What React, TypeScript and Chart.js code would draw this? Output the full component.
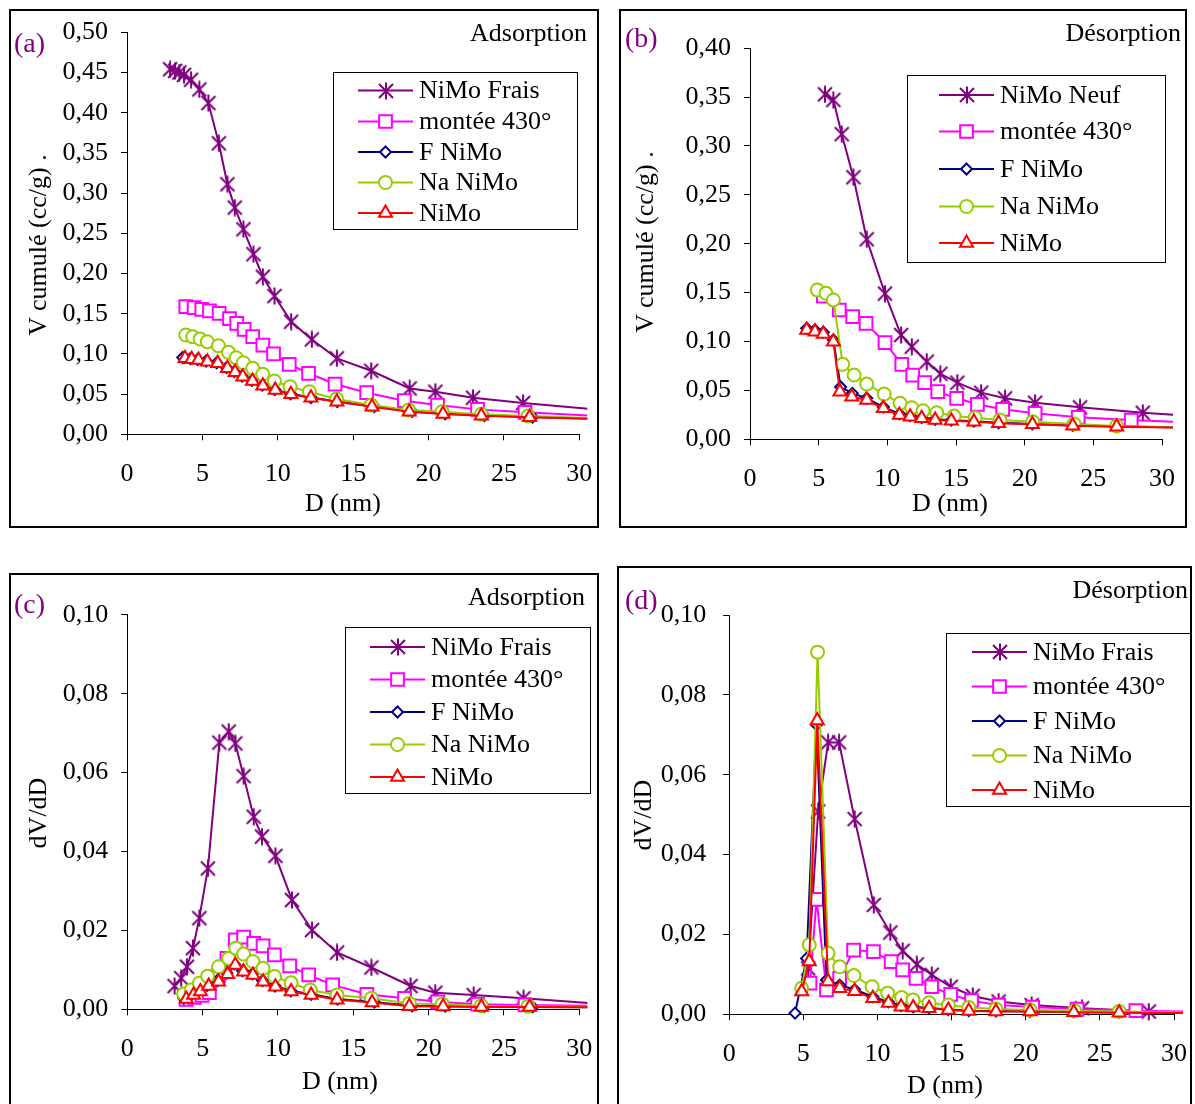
import React, { useEffect, useRef } from 'react';
import { Chart, registerables } from 'chart.js';
Chart.register(...registerables);

type P = [number, number][];

// ---------- Colours / fonts ----------
const PURPLE = '#800080';
const MAGENTA = '#FF00FF';
const NAVY = '#000080';
const GREEN = '#99CC00';
const RED = '#FF0000';
const FONT = "'Liberation Serif', 'Times New Roman', serif";

// ---------- Legend labels ----------
const LABELS_FRAIS = ['NiMo Frais', 'montée 430°', 'F NiMo', 'Na NiMo', 'NiMo'];
const LABELS_NEUF = ['NiMo Neuf', 'montée 430°', 'F NiMo', 'Na NiMo', 'NiMo'];

// ---------- Axis ranges ----------
const X_MAX = 30;
const X_STEP = 5;
const Y_MAX_A = 0.5;
const Y_MAX_B = 0.4;
const Y_MAX_CD = 0.1;
const Y_STEP_AB = 0.05;
const Y_STEP_CD = 0.02;

// ---------- (a) Adsorption, cumulative volume ----------
const A_FRAIS: P = [[2.86, 0.454], [3.19, 0.452], [3.47, 0.45], [3.78, 0.447], [4.25, 0.441], [4.8, 0.429], [5.4, 0.412], [6.09, 0.362], [6.66, 0.311], [7.15, 0.282], [7.72, 0.255], [8.39, 0.224], [9.01, 0.196], [9.78, 0.172], [10.89, 0.14], [12.26, 0.118], [13.92, 0.0945], [16.2, 0.079], [18.75, 0.057], [20.45, 0.053], [22.95, 0.0455], [26.27, 0.039], [32, 0.0295]];
const A_MONTEE: P = [[3.9, 0.1587], [4.45, 0.1575], [4.96, 0.1555], [5.47, 0.1534], [6.11, 0.1505], [6.8, 0.1438], [7.28, 0.138], [7.77, 0.1306], [8.34, 0.1214], [9.01, 0.111], [9.72, 0.0999], [10.76, 0.087], [12.04, 0.0759], [13.8, 0.0625], [15.9, 0.0518], [18.4, 0.0418], [20.6, 0.0364], [23.25, 0.031], [26.4, 0.0274], [32, 0.022]];
const A_F: P = [[3.7, 0.0955], [4.2, 0.0942], [4.68, 0.093], [5.25, 0.0912], [5.95, 0.089], [6.6, 0.083], [7.12, 0.078], [7.63, 0.0725], [8.28, 0.067], [8.98, 0.0612], [9.8, 0.0557], [10.85, 0.0503], [12.2, 0.0458], [13.95, 0.0408], [16.4, 0.0345], [18.9, 0.0285], [21.1, 0.0255], [23.7, 0.0233], [26.9, 0.0214], [32, 0.019]];
const A_NA: P = [[3.9, 0.1235], [4.36, 0.1214], [4.85, 0.1185], [5.33, 0.1152], [6.06, 0.1102], [6.73, 0.102], [7.24, 0.0953], [7.72, 0.089], [8.34, 0.082], [9.01, 0.0746], [9.78, 0.0663], [10.82, 0.0592], [12.1, 0.053], [13.9, 0.044], [16.2, 0.0364], [18.68, 0.0302], [20.9, 0.0281], [23.5, 0.0249], [26.6, 0.0228], [32, 0.0195]];
const A_NIMO: P = [[3.85, 0.0945], [4.29, 0.0933], [4.74, 0.0924], [5.33, 0.0903], [6.02, 0.0883], [6.66, 0.0821], [7.17, 0.0771], [7.68, 0.0716], [8.32, 0.0663], [9.01, 0.0605], [9.83, 0.0551], [10.87, 0.0498], [12.2, 0.0455], [13.92, 0.0405], [16.25, 0.0343], [18.72, 0.0281], [20.96, 0.0252], [23.5, 0.0231], [26.7, 0.0211], [32, 0.0185]];

// ---------- (b) Désorption, cumulative volume ----------
const B_NEUF: P = [[5.46, 0.3527], [6.07, 0.347], [6.68, 0.312], [7.53, 0.268], [8.5, 0.2045], [9.83, 0.149], [11.0, 0.1066], [11.78, 0.0947], [12.87, 0.0794], [13.86, 0.067], [15.1, 0.0579], [16.83, 0.0477], [18.57, 0.0419], [20.76, 0.0374], [24.03, 0.0327], [28.6, 0.0272], [33, 0.023]];
const B_MONTEE: P = [[5.34, 0.1465], [6.5, 0.1322], [7.48, 0.1254], [8.45, 0.1186], [9.83, 0.0988], [11.05, 0.0767], [11.85, 0.0657], [12.72, 0.0579], [13.67, 0.0487], [15.05, 0.0419], [16.56, 0.0358], [18.4, 0.0307], [20.76, 0.0266], [23.9, 0.0225], [27.76, 0.0197], [33, 0.0165]];
const B_F: P = [[4.13, 0.1135], [4.73, 0.1118], [5.34, 0.1095], [6.07, 0.1015], [6.6, 0.0535], [7.45, 0.047], [8.5, 0.042], [9.71, 0.033], [10.88, 0.026], [11.66, 0.0242], [12.5, 0.0222], [13.48, 0.0205], [14.66, 0.0196], [16.3, 0.0185], [18.1, 0.0168], [20.56, 0.0157], [23.5, 0.0142], [26.7, 0.0132], [33, 0.012]];
const B_NA: P = [[4.9, 0.1527], [5.53, 0.1493], [6.07, 0.1425], [6.75, 0.0767], [7.58, 0.0657], [8.5, 0.0565], [9.77, 0.0463], [10.93, 0.0368], [11.78, 0.0323], [12.6, 0.0292], [13.6, 0.0272], [14.86, 0.0238], [16.39, 0.0221], [18.2, 0.0197], [20.59, 0.018], [23.6, 0.0156], [26.7, 0.0136], [33, 0.0115]];
const B_NIMO: P = [[4.13, 0.1118], [4.73, 0.11], [5.34, 0.1077], [6.07, 0.0998], [6.55, 0.0487], [7.41, 0.0436], [8.5, 0.0402], [9.71, 0.0317], [10.88, 0.0248], [11.66, 0.0231], [12.5, 0.0215], [13.48, 0.0197], [14.66, 0.019], [16.3, 0.018], [18.1, 0.0164], [20.56, 0.0153], [23.5, 0.0139], [26.7, 0.0129], [33, 0.0118]];

// ---------- (c) Adsorption, dV/dD ----------
const C_FRAIS: P = [[3.14, 0.0059], [3.58, 0.0079], [3.96, 0.0108], [4.36, 0.0155], [4.78, 0.0231], [5.35, 0.0357], [6.11, 0.0676], [6.73, 0.0704], [7.17, 0.0674], [7.72, 0.0591], [8.39, 0.0488], [8.94, 0.0438], [9.83, 0.0389], [10.93, 0.0277], [12.26, 0.0201], [13.92, 0.0144], [16.2, 0.0106], [18.8, 0.0059], [20.44, 0.0042], [22.99, 0.0036], [26.3, 0.0028], [32, 0.0012]];
const C_MONTEE: P = [[3.9, 0.0025], [4.45, 0.003], [4.96, 0.0035], [5.45, 0.0042], [6.05, 0.0085], [6.61, 0.0129], [7.17, 0.0176], [7.72, 0.0183], [8.39, 0.0167], [9.01, 0.0161], [9.76, 0.0138], [10.78, 0.011], [12.04, 0.0087], [13.63, 0.0062], [15.9, 0.0038], [18.4, 0.0028], [20.6, 0.0019], [23.25, 0.0013], [26.4, 0.0011], [32, 0.0008]];
const C_F: P = [[3.75, 0.0028], [4.25, 0.0038], [4.75, 0.0048], [5.3, 0.0061], [5.98, 0.0073], [6.6, 0.0092], [7.1, 0.0115], [7.65, 0.0098], [8.3, 0.009], [8.98, 0.0073], [9.8, 0.0059], [10.85, 0.0047], [12.2, 0.0038], [13.95, 0.0026], [16.4, 0.0018], [18.9, 0.0009], [21.1, 0.0008], [23.7, 0.0007], [26.9, 0.0006], [32, 0.0005]];
const C_NA: P = [[3.74, 0.0039], [4.23, 0.0049], [4.78, 0.0066], [5.33, 0.0084], [6.06, 0.0108], [6.73, 0.0129], [7.2, 0.0155], [7.72, 0.014], [8.34, 0.0121], [9.01, 0.0104], [9.78, 0.0083], [10.87, 0.0067], [12.15, 0.0049], [13.92, 0.0036], [16.2, 0.0028], [18.72, 0.0015], [20.9, 0.0013], [23.5, 0.0009], [26.6, 0.0008], [32, 0.0006]];
const C_NIMO: P = [[3.92, 0.0026], [4.4, 0.0036], [4.85, 0.0045], [5.4, 0.0059], [6.06, 0.007], [6.66, 0.0089], [7.17, 0.0112], [7.72, 0.0095], [8.34, 0.0087], [9.01, 0.007], [9.83, 0.0057], [10.87, 0.0045], [12.2, 0.0036], [13.92, 0.0024], [16.25, 0.0017], [18.72, 0.0008], [20.96, 0.0007], [23.5, 0.0006], [26.7, 0.0006], [32, 0.0005]];

// ---------- (d) Désorption, dV/dD ----------
const D_FRAIS: P = [[5.33, 0.0115], [6.0, 0.0508], [6.67, 0.0681], [7.41, 0.0681], [8.46, 0.0489], [9.75, 0.0274], [10.87, 0.0205], [11.7, 0.0159], [12.65, 0.0125], [13.66, 0.0099], [14.94, 0.0069], [16.43, 0.0046], [18.17, 0.0032], [20.4, 0.0023], [23.8, 0.0015], [28.3, 0.0007], [33, 0.0002]];
const D_MONTEE: P = [[5.45, 0.0078], [5.89, 0.0288], [6.56, 0.0061], [7.45, 0.009], [8.39, 0.0161], [9.73, 0.0157], [10.92, 0.0132], [11.7, 0.0111], [12.6, 0.009], [13.66, 0.0069], [14.94, 0.005], [16.34, 0.0034], [18.17, 0.0023], [20.47, 0.0018], [23.46, 0.0013], [27.43, 0.0009], [33, 0.0005]];
const D_F: P = [[4.44, 0.0003], [5.22, 0.014], [5.89, 0.0725], [6.56, 0.0086], [7.45, 0.0073], [8.46, 0.0062], [9.69, 0.0044], [10.74, 0.0031], [11.59, 0.0022], [12.41, 0.0019], [13.48, 0.0016], [14.78, 0.0012], [16.16, 0.0009], [17.99, 0.0008], [20.29, 0.0007], [23.24, 0.0006], [26.3, 0.0005], [33, 0.0003]];
const D_NA: P = [[4.89, 0.0065], [5.4, 0.0174], [5.96, 0.0907], [6.67, 0.0153], [7.45, 0.0119], [8.41, 0.0097], [9.64, 0.0069], [10.69, 0.0053], [11.63, 0.0042], [12.4, 0.0036], [13.48, 0.0029], [14.78, 0.0023], [16.16, 0.0017], [17.99, 0.0013], [20.29, 0.0011], [23.3, 0.0009], [26.3, 0.0007], [33, 0.0004]];
const D_NIMO: P = [[4.89, 0.0057], [5.4, 0.0132], [5.94, 0.0736], [6.67, 0.0082], [7.45, 0.0065], [8.46, 0.0058], [9.69, 0.004], [10.74, 0.0028], [11.59, 0.0019], [12.41, 0.0017], [13.48, 0.0015], [14.78, 0.0011], [16.16, 0.0008], [17.99, 0.0007], [20.29, 0.0007], [23.24, 0.0005], [26.3, 0.0004], [33, 0.0003]];

// ---------- Series styles ----------
type Style = { color: string; marker: string; radius: number };
const STYLES: Style[] = [
  { color: PURPLE, marker: 'star', radius: 8 },
  { color: MAGENTA, marker: 'rect', radius: 9 },
  { color: NAVY, marker: 'rectRot', radius: 5.5 },
  { color: GREEN, marker: 'circle', radius: 6.5 },
  { color: RED, marker: 'triangle', radius: 7.5 },
];

let starCache: HTMLCanvasElement | null = null;
function starImage(): HTMLCanvasElement {
  if (starCache) return starCache;
  const c = document.createElement('canvas');
  c.width = 18;
  c.height = 18;
  const g = c.getContext('2d')!;
  g.strokeStyle = PURPLE;
  g.lineWidth = 2;
  g.beginPath();
  g.moveTo(2, 2);
  g.lineTo(16, 16);
  g.moveTo(16, 2);
  g.lineTo(2, 16);
  g.moveTo(9, 0.5);
  g.lineTo(9, 17.5);
  g.stroke();
  starCache = c;
  return c;
}

function drawMarker(ctx: CanvasRenderingContext2D, st: Style, x: number, y: number) {
  ctx.save();
  if (st.marker === 'star') {
    const img = starImage();
    ctx.drawImage(img, Math.round(x - img.width / 2), Math.round(y - img.height / 2));
    ctx.restore();
    return;
  }
  const r = st.radius;
  ctx.strokeStyle = st.color;
  ctx.fillStyle = '#fff';
  ctx.lineWidth = 2;
  ctx.beginPath();
  if (st.marker === 'rect') {
    const s = Math.SQRT1_2 * r;
    ctx.rect(x - s, y - s, 2 * s, 2 * s);
  } else if (st.marker === 'rectRot') {
    ctx.moveTo(x - r, y);
    ctx.lineTo(x, y - r);
    ctx.lineTo(x + r, y);
    ctx.lineTo(x, y + r);
    ctx.closePath();
  } else if (st.marker === 'circle') {
    ctx.arc(x, y, r, 0, Math.PI * 2);
  } else if (st.marker === 'triangle') {
    ctx.moveTo(x, y - r);
    ctx.lineTo(x + 0.866 * r, y + 0.5 * r);
    ctx.lineTo(x - 0.866 * r, y + 0.5 * r);
    ctx.closePath();
  }
  ctx.fill();
  ctx.stroke();
  ctx.restore();
}

// ---------- Panel layout (page pixel coordinates) ----------
type Box = { l: number; t: number; r: number; b: number };
type PanelCfg = {
  box: Box;
  plot: Box;
  clipR: number;
  yMax: number;
  yStep: number;
  yPad: number;
  series: P[];
  labels: string[];
  legend: { box: Box; rows: number[]; x0: number; x1: number; tx: number };
};

const PANELS: PanelCfg[] = [
  {
    box: { l: 10, t: 10, r: 598, b: 527 },
    plot: { l: 127, t: 32.3, r: 579.3, b: 434.3 },
    clipR: 8, yMax: Y_MAX_A, yStep: Y_STEP_AB, yPad: 13,
    series: [A_FRAIS, A_MONTEE, A_F, A_NA, A_NIMO],
    labels: LABELS_FRAIS,
    legend: { box: { l: 333, t: 72, r: 577, b: 229 }, rows: [90.5, 121.5, 152, 182.5, 213], x0: 358, x1: 413, tx: 419 },
  },
  {
    box: { l: 620, t: 10, r: 1186, b: 527 },
    plot: { l: 750, t: 48.1, r: 1162, b: 439.3 },
    clipR: 11, yMax: Y_MAX_B, yStep: Y_STEP_AB, yPad: 13,
    series: [B_NEUF, B_MONTEE, B_F, B_NA, B_NIMO],
    labels: LABELS_NEUF,
    legend: { box: { l: 907, t: 75, r: 1165, b: 262 }, rows: [95, 131.5, 169, 206.5, 243], x0: 939, x1: 994, tx: 1000 },
  },
  {
    box: { l: 10, t: 574, r: 598, b: 1120 },
    plot: { l: 127.3, t: 614.8, r: 579.3, b: 1009.3 },
    clipR: 8, yMax: Y_MAX_CD, yStep: Y_STEP_CD, yPad: 13,
    series: [C_FRAIS, C_MONTEE, C_F, C_NA, C_NIMO],
    labels: LABELS_FRAIS,
    legend: { box: { l: 345, t: 627, r: 590, b: 793 }, rows: [647, 679.5, 712, 744.5, 777], x0: 370, x1: 425, tx: 431 },
  },
  {
    box: { l: 618, t: 567, r: 1191, b: 1120 },
    plot: { l: 729.2, t: 615, r: 1174, b: 1014.3 },
    clipR: 9, yMax: Y_MAX_CD, yStep: Y_STEP_CD, yPad: 17,
    series: [D_FRAIS, D_MONTEE, D_F, D_NA, D_NIMO],
    labels: LABELS_FRAIS,
    legend: { box: { l: 946, t: 633, r: 1190, b: 806 }, rows: [652, 686.5, 721, 755.5, 790], x0: 972, x1: 1027, tx: 1033 },
  },
];

function zeroPad(s: any) {
  s.paddingLeft = 0;
  s.paddingRight = 0;
  s.paddingTop = 0;
  s.paddingBottom = 0;
}

function Panel({ cfg }: { cfg: PanelCfg }) {
  const ref = useRef<HTMLCanvasElement>(null);
  const w = cfg.box.r - cfg.box.l;
  const h = cfg.box.b - cfg.box.t;
  useEffect(() => {
    const { box, plot, legend } = cfg;
    const star = starImage();
    const datasets = cfg.series.map((pts, i) => {
      const st = STYLES[i];
      return {
        label: cfg.labels[i],
        data: pts.map(([x, y]) => ({ x, y })),
        borderColor: st.color,
        borderWidth: 2,
        pointStyle: st.marker === 'star' ? (star as any) : st.marker,
        pointRadius: (c: any) => (c.raw && c.raw.x > X_MAX ? 0 : st.radius),
        pointHoverRadius: st.radius,
        pointBorderColor: st.color,
        pointBackgroundColor: '#fff',
        pointBorderWidth: 2,
        tension: 0,
        fill: false,
        order: 5 - i,
        clip: { left: 30, top: 30, right: cfg.clipR, bottom: 30 },
      };
    });
    const legendPlugin = {
      id: 'boxLegend',
      afterDraw(chart: any) {
        const ctx: CanvasRenderingContext2D = chart.ctx;
        const ox = box.l;
        const oy = box.t;
        ctx.save();
        const lb = legend.box;
        ctx.fillStyle = '#fff';
        ctx.fillRect(lb.l - ox, lb.t - oy, lb.r - lb.l, lb.b - lb.t);
        ctx.strokeStyle = '#000';
        ctx.lineWidth = 1;
        ctx.strokeRect(Math.round(lb.l - ox) + 0.5, Math.round(lb.t - oy) + 0.5, lb.r - lb.l, lb.b - lb.t);
        legend.rows.forEach((ry, i) => {
          const st = STYLES[i];
          const y = ry - oy;
          ctx.strokeStyle = st.color;
          ctx.lineWidth = 2;
          ctx.beginPath();
          ctx.moveTo(legend.x0 - ox, y);
          ctx.lineTo(legend.x1 - ox, y);
          ctx.stroke();
          drawMarker(ctx, st, (legend.x0 + legend.x1) / 2 - ox, y);
          ctx.fillStyle = '#000';
          ctx.font = `26px ${FONT}`;
          ctx.textAlign = 'left';
          ctx.textBaseline = 'middle';
          ctx.fillText(cfg.labels[i], legend.tx - ox, y + 1);
        });
        ctx.restore();
      },
    };
    const chart = new Chart(ref.current!, {
      type: 'line',
      data: { datasets: datasets as any },
      options: {
        responsive: false,
        animation: false,
        events: [],
        layout: {
          padding: { left: 0, top: plot.t - box.t, right: box.r - plot.r, bottom: 0 },
        },
        plugins: { legend: { display: false }, tooltip: { enabled: false } },
        scales: {
          x: {
            type: 'linear',
            min: 0,
            max: X_MAX,
            ticks: {
              stepSize: X_STEP,
              color: '#000',
              font: { family: FONT, size: 26, lineHeight: 1.2 },
              padding: 18,
              maxRotation: 0,
              autoSkip: false,
            },
            grid: { drawOnChartArea: false, drawTicks: true, tickLength: 6, color: '#000', lineWidth: 1 },
            border: { display: true, color: '#000', width: 1 },
            afterFit: (s: any) => {
              s.height = box.b - plot.b;
              zeroPad(s);
            },
          },
          y: {
            type: 'linear',
            min: 0,
            max: cfg.yMax,
            ticks: {
              stepSize: cfg.yStep,
              color: '#000',
              font: { family: FONT, size: 26, lineHeight: 1.2 },
              padding: cfg.yPad,
              autoSkip: false,
              callback: (v: any) => Number(v).toFixed(2).replace('.', ','),
            },
            grid: { drawOnChartArea: false, drawTicks: true, tickLength: 6, color: '#000', lineWidth: 1 },
            border: { display: true, color: '#000', width: 1 },
            afterFit: (s: any) => {
              s.width = plot.l - box.l;
              zeroPad(s);
            },
          },
        },
      },
      plugins: [legendPlugin],
    });
    return () => chart.destroy();
  }, []);
  return (
    <canvas
      ref={ref}
      width={w}
      height={h}
      style={{ position: 'absolute', left: cfg.box.l, top: cfg.box.t, width: w, height: h }}
    />
  );
}

type Txt = { text: string; x: number; y: number; align: 'left' | 'center' | 'right'; rot?: boolean; color?: string; size?: number };
const TEXTS: Txt[] = [
  { text: '(a)', x: 14, y: 43, align: 'left', color: PURPLE, size: 28 },
  { text: 'Adsorption', x: 587, y: 33, align: 'right' },
  { text: 'V cumulé (cc/g) .', x: 38, y: 245, align: 'center', rot: true },
  { text: 'D (nm)', x: 343, y: 503, align: 'center' },
  { text: '(b)', x: 625, y: 38, align: 'left', color: PURPLE, size: 28 },
  { text: 'Désorption', x: 1181, y: 33, align: 'right' },
  { text: 'V cumulé (cc/g) .', x: 645, y: 242, align: 'center', rot: true },
  { text: 'D (nm)', x: 950, y: 503, align: 'center' },
  { text: '(c)', x: 14, y: 604, align: 'left', color: PURPLE, size: 28 },
  { text: 'Adsorption', x: 585, y: 597, align: 'right' },
  { text: 'dV/dD', x: 38, y: 813, align: 'center', rot: true },
  { text: 'D (nm)', x: 340, y: 1081, align: 'center' },
  { text: '(d)', x: 625, y: 600, align: 'left', color: PURPLE, size: 28 },
  { text: 'Désorption', x: 1188, y: 590, align: 'right' },
  { text: 'dV/dD', x: 643, y: 815, align: 'center', rot: true },
  { text: 'D (nm)', x: 945, y: 1085, align: 'center' },
];

function Label({ t }: { t: Txt }) {
  const tx = t.align === 'left' ? '0' : t.align === 'right' ? '-100%' : '-50%';
  return (
    <div
      style={{
        position: 'absolute',
        left: t.x,
        top: t.y,
        transform: `translate(${tx}, -50%)${t.rot ? ' rotate(-90deg)' : ''}`,
        fontFamily: FONT,
        fontSize: t.size ?? 26,
        lineHeight: 1,
        whiteSpace: 'nowrap',
        color: t.color ?? '#000',
      }}
    >
      {t.text}
    </div>
  );
}

export default function App() {
  return (
    <div style={{ position: 'absolute', left: 0, top: 0, width: 1195, height: 1104, overflow: 'hidden', background: '#fff' }}>
      {PANELS.map((p, i) => (
        <Panel key={i} cfg={p} />
      ))}
      {PANELS.map((p, i) => (
        <div
          key={'b' + i}
          style={{
            position: 'absolute',
            left: p.box.l - 1,
            top: p.box.t - 1,
            width: p.box.r - p.box.l + 2,
            height: p.box.b - p.box.t + 2,
            border: '2px solid #000',
            boxSizing: 'border-box',
            pointerEvents: 'none',
          }}
        />
      ))}
      {TEXTS.map((t, i) => (
        <Label key={i} t={t} />
      ))}
    </div>
  );
}
